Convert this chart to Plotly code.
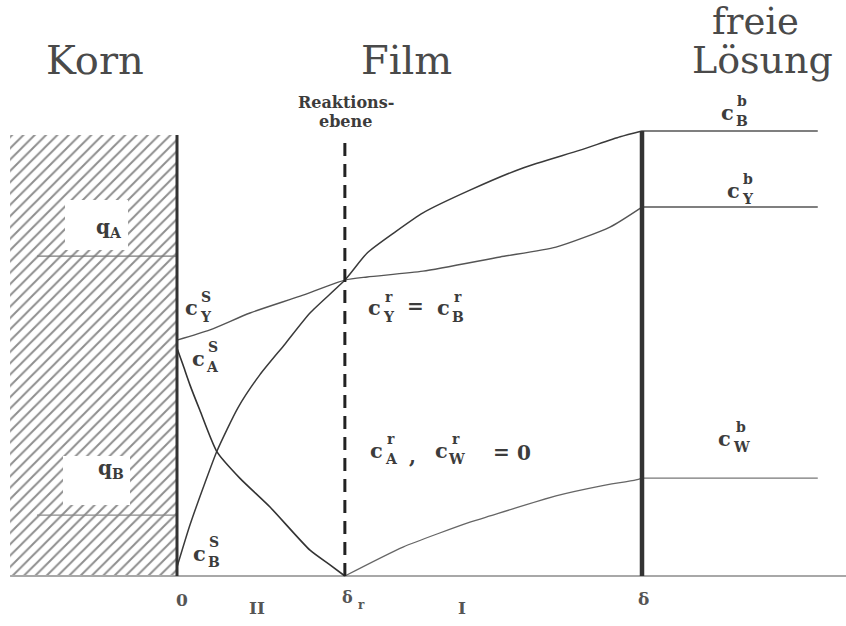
import plotly.graph_objects as go

# ---------------- data (x in units of film thickness delta, y in units of c_B^b) -------------
x_surface = 0.0
x_delta_r = 0.361
x_delta = 1.0
x_grain_left = -0.359
x_bulk_end = 1.378
x_base_end = 1.439
x_q_start = -0.301
y_grain_top = 0.991

q_A = 0.719
q_B = 0.137

cB_x = [0.0, 0.028, 0.060, 0.086, 0.131, 0.178, 0.232, 0.286, 0.361, 0.409, 0.469, 0.529, 0.630, 0.744, 0.867, 0.953, 1.0]
cB_y = [0.020, 0.115, 0.209, 0.281, 0.378, 0.452, 0.521, 0.591, 0.665, 0.726, 0.773, 0.816, 0.867, 0.917, 0.957, 0.987, 1.0]

cY_x = [0.0, 0.071, 0.157, 0.265, 0.361, 0.409, 0.529, 0.695, 0.815, 0.931, 1.0]
cY_y = [0.530, 0.553, 0.591, 0.629, 0.665, 0.672, 0.685, 0.717, 0.739, 0.784, 0.829]

cA_x = [0.0, 0.013, 0.028, 0.049, 0.086, 0.135, 0.200, 0.286, 0.329, 0.361]
cA_y = [0.512, 0.474, 0.429, 0.373, 0.279, 0.220, 0.155, 0.058, 0.025, 0.0]

cW_x = [0.361, 0.486, 0.630, 0.673, 0.815, 0.910, 0.987, 1.0]
cW_y = [0.0, 0.065, 0.121, 0.135, 0.180, 0.202, 0.216, 0.220]

cB_bulk = 1.0
cY_bulk = 0.829
cW_bulk = 0.220

W, H = 846, 626
X0, XS = 177, 465   # pixel of x=0, pixels per unit
Y0, YS = 576, 445

LINE = "#3a3a3a"
TXT = "#3c3c3c"
SERIF = "DejaVu Serif"

fig = go.Figure()

# hatched grain (Korn)
fig.add_trace(go.Scatter(
    x=[x_grain_left, x_surface, x_surface, x_grain_left, x_grain_left],
    y=[0, 0, y_grain_top, y_grain_top, 0],
    mode="lines", line=dict(width=0, color="rgba(0,0,0,0)"),
    fill="toself", fillcolor="white",
    fillpattern=dict(shape="/", fgcolor="#1e1e1e", bgcolor="white", size=8, solidity=0.25),
    hoverinfo="skip", showlegend=False))

def line(xs, ys, width=1.5, color=LINE, dash=None, shape="linear"):
    fig.add_trace(go.Scatter(x=xs, y=ys, mode="lines",
                             line=dict(width=width, color=color, dash=dash, shape=shape, smoothing=0.6),
                             hoverinfo="skip", showlegend=False))

# baseline
line([x_grain_left, x_base_end], [0, 0], width=2, color="#a8a8a8")
# q lines in the grain
line([x_q_start, x_surface], [q_A, q_A], width=1.2, color="#7a7a7a")
line([x_q_start, x_surface], [q_B, q_B], width=1.2, color="#8a8a8a")

# concentration profiles
line(cB_x, cB_y, width=1.5, shape="spline")
line(cY_x, cY_y, width=1.4, color="#555555", shape="spline")
line(cA_x, cA_y, width=1.6, color="#333333", shape="spline")
line(cW_x, cW_y, width=1.3, color="#666666", shape="spline")
# bulk levels
line([x_delta, x_bulk_end], [cB_bulk, cB_bulk], width=1.5, color="#555555")
line([x_delta, x_bulk_end], [cY_bulk, cY_bulk], width=1.5, color="#555555")
line([x_delta, x_bulk_end], [cW_bulk, cW_bulk], width=1.3, color="#777777")

# boundaries
line([x_surface, x_surface], [0, y_grain_top], width=3, color="#333333")
line([x_delta_r, x_delta_r], [0, y_grain_top], width=3, color="#222222", dash="13px,8px")
line([x_delta, x_delta], [0, cB_bulk], width=4.5, color="#333333")

def px2x(p):
    return (p - X0) / XS

def px2y(p):
    return (Y0 - p) / YS

# white boxes behind q labels
for (a, b, c, d) in [(65, 128, 200, 250), (63, 130, 456, 505)]:
    fig.add_shape(type="rect", xref="x", yref="y",
                  x0=px2x(a), x1=px2x(b), y0=px2y(d), y1=px2y(c),
                  fillcolor="white", line=dict(width=0), layer="above")

ann = []

def text(px, py, s, size, color=TXT, bold=False, family=SERIF):
    ann.append(dict(xref="paper", yref="paper", x=px / W, y=1 - py / H,
                    text=("<b>%s</b>" % s) if bold else s, showarrow=False,
                    xanchor="center", yanchor="middle",
                    font=dict(family=family, size=size, color=color)))

def clabel(px, py, main, sup=None, sub=None, dx=15, size=21, isize=14):
    text(px, py, main, size, bold=True)
    if sup:
        text(px + dx, py - 11, sup, isize, bold=True)
    if sub:
        text(px + dx, py + 9, sub, isize, bold=True)

# titles
TITLE = "#4a4a4a"
text(95, 60, "Korn", 40, color=TITLE)
text(406, 60, "Film", 40, color=TITLE)
text(755, 21, "freie", 37, color=TITLE)
text(762, 60, "Lösung", 38, color=TITLE)
text(346, 102, "Reaktions-", 16, bold=True)
text(345, 121, "ebene", 16, bold=True)

# q labels
ann.append(dict(xref="paper", yref="paper", x=94 / W, y=1 - 228 / H, text="<b>q<sub>A</sub></b>",
                showarrow=False, font=dict(family=SERIF, size=20, color=TXT)))
ann.append(dict(xref="paper", yref="paper", x=96 / W, y=1 - 484 / H, text="<b>q<sub>B</sub></b>",
                showarrow=False, font=dict(family=SERIF, size=20, color=TXT)))

# concentration labels
clabel(191, 308, "c", "S", "Y")
clabel(198, 358, "c", "S", "A")
clabel(199, 553, "c", "S", "B")
clabel(374, 308, "c", "r", "Y")
text(415, 306, "=", 20, bold=True)
clabel(443, 308, "c", "r", "B")
clabel(376, 450, "c", "r", "A")
text(412, 456, ",", 20, bold=True)
clabel(441, 450, "c", "r", "W")
text(501, 452, "=", 20, bold=True)
text(524, 453, "0", 20, bold=True)
clabel(727, 112, "c", "b", "B")
clabel(733, 190, "c", "b", "Y")
clabel(724, 438, "c", "b", "W", dx=17)

# axis marks
text(182, 600, "0", 17, color="#555555", bold=True)
text(257, 608, "II", 17, color="#555555", bold=True)
text(347, 597, "δ", 16, color="#555555", bold=True)
text(361, 605, "r", 12, color="#555555", bold=True)
text(462, 608, "I", 17, color="#555555", bold=True)
text(643, 599, "δ", 17, color="#555555", bold=True)

fig.update_layout(
    width=W, height=H, margin=dict(l=0, r=0, t=0, b=0),
    paper_bgcolor="white", plot_bgcolor="white",
    xaxis=dict(range=[-X0 / XS, (W - X0) / XS], visible=False, fixedrange=True),
    yaxis=dict(range=[(Y0 - H) / YS, Y0 / YS], visible=False, fixedrange=True),
    annotations=ann, showlegend=False)

fig.write_html("out.html", config={"displayModeBar": False},
               post_script="document.body.style.margin='0px';")
